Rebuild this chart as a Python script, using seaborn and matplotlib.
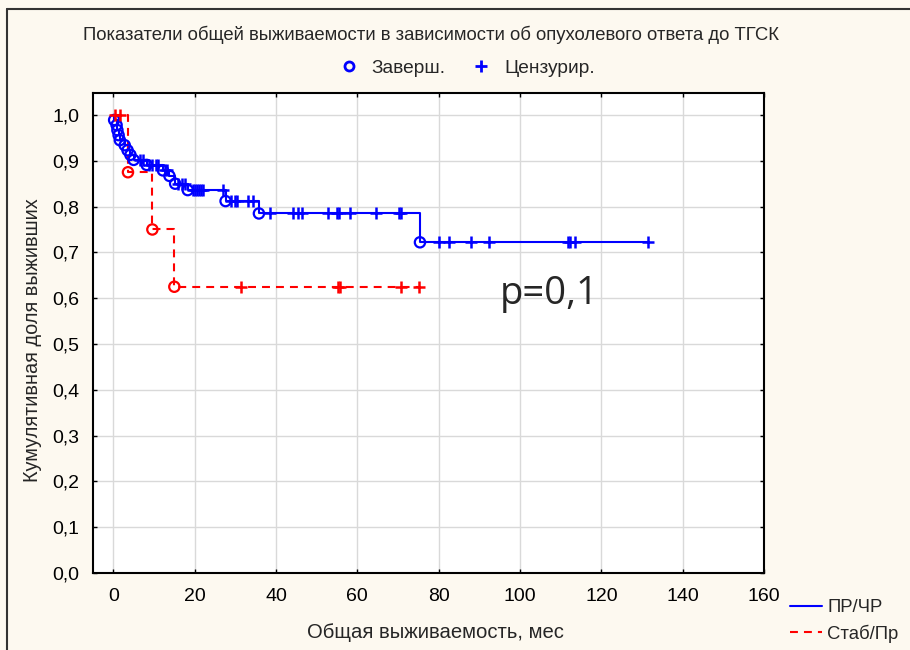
import numpy as np
import pandas as pd
import matplotlib
matplotlib.use("Agg")
import matplotlib.pyplot as plt
from matplotlib.lines import Line2D
from matplotlib.ticker import FuncFormatter
import seaborn as sns

# Group labels
groups = ["ПР/ЧР", "Стаб/Пр"]

# ПР/ЧР: event times (months) and survival right after each event
pr_event_t = [0.2, 0.8, 1.0, 1.3, 1.6, 2.8, 3.5, 4.2, 5.0, 8.2, 12.2, 13.8, 15.2,
              18.3, 27.6, 35.8, 75.4]
pr_event_s = [0.989, 0.978, 0.967, 0.956, 0.945, 0.934, 0.923, 0.913, 0.902, 0.891,
              0.879, 0.867, 0.850, 0.836, 0.812, 0.785, 0.722]
# ПР/ЧР: censored follow-up times
pr_cens_t = [6.5, 7.2, 8.8, 9.5, 10.5, 11.0, 12.8, 13.3, 16.0, 16.8, 17.5, 19.5, 20.0,
             20.5, 21.0, 21.5, 22.0, 27.0, 29.0, 29.8, 30.5, 33.0, 34.3, 38.6, 44.3,
             45.3, 46.5, 52.7, 55.1, 55.5, 58.3, 64.5, 70.2, 70.7, 80.0, 82.5, 88.0,
             92.4, 111.9, 112.4, 113.5, 131.5]

# Стаб/Пр: events and censored times
st_event_t = [3.6, 9.6, 15.0]
st_event_s = [0.875, 0.750, 0.625]
st_cens_t = [0.5, 1.7, 31.3, 55.3, 55.7, 70.8, 75.2]

# Axis tick values
x_ticks = [0, 20, 40, 60, 80, 100, 120, 140, 160]
y_ticks = [0.0, 0.1, 0.2, 0.3, 0.4, 0.5, 0.6, 0.7, 0.8, 0.9, 1.0]

title_text = "Показатели общей выживаемости в зависимости об опухолевого ответа до ТГСК"
x_label = "Общая выживаемость, мес"
y_label = "Кумулятивная доля выживших"
p_text = "p=0,1"
marker_labels = ["Заверш.", "Цензурир."]

colors = {"ПР/ЧР": "#0000FF", "Стаб/Пр": "#FF0000"}
dash_styles = {"ПР/ЧР": "", "Стаб/Пр": (3.8, 2.9)}


def km_steps(event_t, event_s, cens_t):
    t = np.r_[0.0, event_t]
    s = np.r_[1.0, event_s]
    end = max(max(cens_t), max(event_t))
    return np.r_[t, end], np.r_[s, s[-1]]


def level_at(t_steps, s_steps, times):
    idx = np.searchsorted(t_steps, np.asarray(times), side="right") - 1
    return s_steps[idx]


raw = {
    "ПР/ЧР": (pr_event_t, pr_event_s, pr_cens_t),
    "Стаб/Пр": (st_event_t, st_event_s, st_cens_t),
}

curves, events, censored = [], [], []
for g in groups:
    et, es, ct = raw[g]
    ts, ss = km_steps(et, es, ct)
    curves.append(pd.DataFrame({"time": ts, "surv": ss, "group": g}))
    events.append(pd.DataFrame({"time": et, "surv": es, "group": g}))
    censored.append(pd.DataFrame({"time": ct, "surv": level_at(ts, ss, ct), "group": g}))
curve_df = pd.concat(curves, ignore_index=True)
event_df = pd.concat(events, ignore_index=True)
cens_df = pd.concat(censored, ignore_index=True)

sns.set_theme(style="white")
plt.rcParams["font.family"] = ["Liberation Sans", "DejaVu Sans"]

fig = plt.figure(figsize=(9.1, 6.5), dpi=100, facecolor="#FDF9F0")
ax = fig.add_axes([93 / 910, 77 / 650, (764 - 93) / 910, (573 - 93) / 650])
ax.set_facecolor("white")

sns.lineplot(data=curve_df, x="time", y="surv", hue="group", style="group",
             hue_order=groups, style_order=groups, palette=colors, dashes=dash_styles,
             drawstyle="steps-post", estimator=None, sort=False, linewidth=1.5,
             legend=False, ax=ax, zorder=3)

for g in groups:
    sub_e = event_df[event_df["group"] == g]
    sns.scatterplot(data=sub_e, x="time", y="surv", marker="o", s=55,
                    facecolor="none", edgecolor=colors[g], linewidth=1.6,
                    ax=ax, zorder=4, legend=False)
    sub_c = cens_df[cens_df["group"] == g]
    sns.scatterplot(data=sub_c, x="time", y="surv", marker="+", s=75,
                    color=colors[g], linewidth=1.8, ax=ax, zorder=4, legend=False)

ax.set_xlim(-5, 160)
ax.set_ylim(0, 1.048)
ax.set_xticks(x_ticks)
ax.set_yticks(y_ticks)
ax.xaxis.set_major_formatter(FuncFormatter(lambda v, p: f"{v:.0f}"))
ax.yaxis.set_major_formatter(FuncFormatter(lambda v, p: f"{v:.1f}".replace(".", ",")))
ax.grid(True, color="#D9D9D9", linewidth=1.0)
ax.set_axisbelow(True)
for sp in ax.spines.values():
    sp.set_color("black")
    sp.set_linewidth(1.5)
ax.tick_params(axis="both", direction="in", length=3, width=1, colors="black",
               labelsize=14, labelcolor="black", top=True, right=True,
               bottom=True, left=True)
ax.tick_params(axis="y", pad=10)
ax.tick_params(axis="x", pad=11)
ax.set_xlabel("")
ax.set_ylabel("")

fig.text(435 / 910, 1 - 632 / 650, x_label, ha="center", va="center", fontsize=14.6)
fig.text(33 / 910, 1 - 340 / 650, y_label, ha="center", va="center", fontsize=14.3,
         rotation=90)
fig.text(431 / 910, 1 - 35 / 650, title_text, ha="center", va="center", fontsize=13.3)
fig.text(500 / 910, 1 - 294 / 650, p_text, ha="left", va="center", fontsize=27.5,
         family=["Open Sans", "DejaVu Sans"])

# Marker legend above the plot
mk_handles = [
    Line2D([], [], ls="none", marker="o", ms=6.5, mfc="none", mec="#0000FF", mew=2.0),
    Line2D([], [], ls="none", marker="+", ms=9, color="#0000FF", mew=2.0),
]
fig.legend(mk_handles, marker_labels, loc="center", bbox_to_anchor=(466 / 910, 1 - 68 / 650),
           ncol=2, frameon=False, fontsize=13.8, columnspacing=1.25, handletextpad=0.6,
           handlelength=1.2)

# Group legend at bottom right
grp_handles = [
    Line2D([], [], color=colors["ПР/ЧР"], lw=1.5),
    Line2D([], [], color=colors["Стаб/Пр"], lw=1.5, ls=(0, (3.8, 2.9))),
]
fig.legend(grp_handles, groups, loc="center left", bbox_to_anchor=(782.5 / 910, 1 - 621 / 650),
           borderaxespad=0, frameon=False, fontsize=13.3, handlelength=1.75,
           handletextpad=0.27, labelspacing=0.45)

# Outer frame
fig.add_artist(Line2D([7 / 910, 7 / 910], [0, 1 - 9 / 650], transform=fig.transFigure,
                      color="#333333", lw=1.5))
fig.add_artist(Line2D([7 / 910, 1], [1 - 9 / 650, 1 - 9 / 650], transform=fig.transFigure,
                      color="#333333", lw=1.5))

fig.savefig("out.png", dpi=100, facecolor=fig.get_facecolor())
